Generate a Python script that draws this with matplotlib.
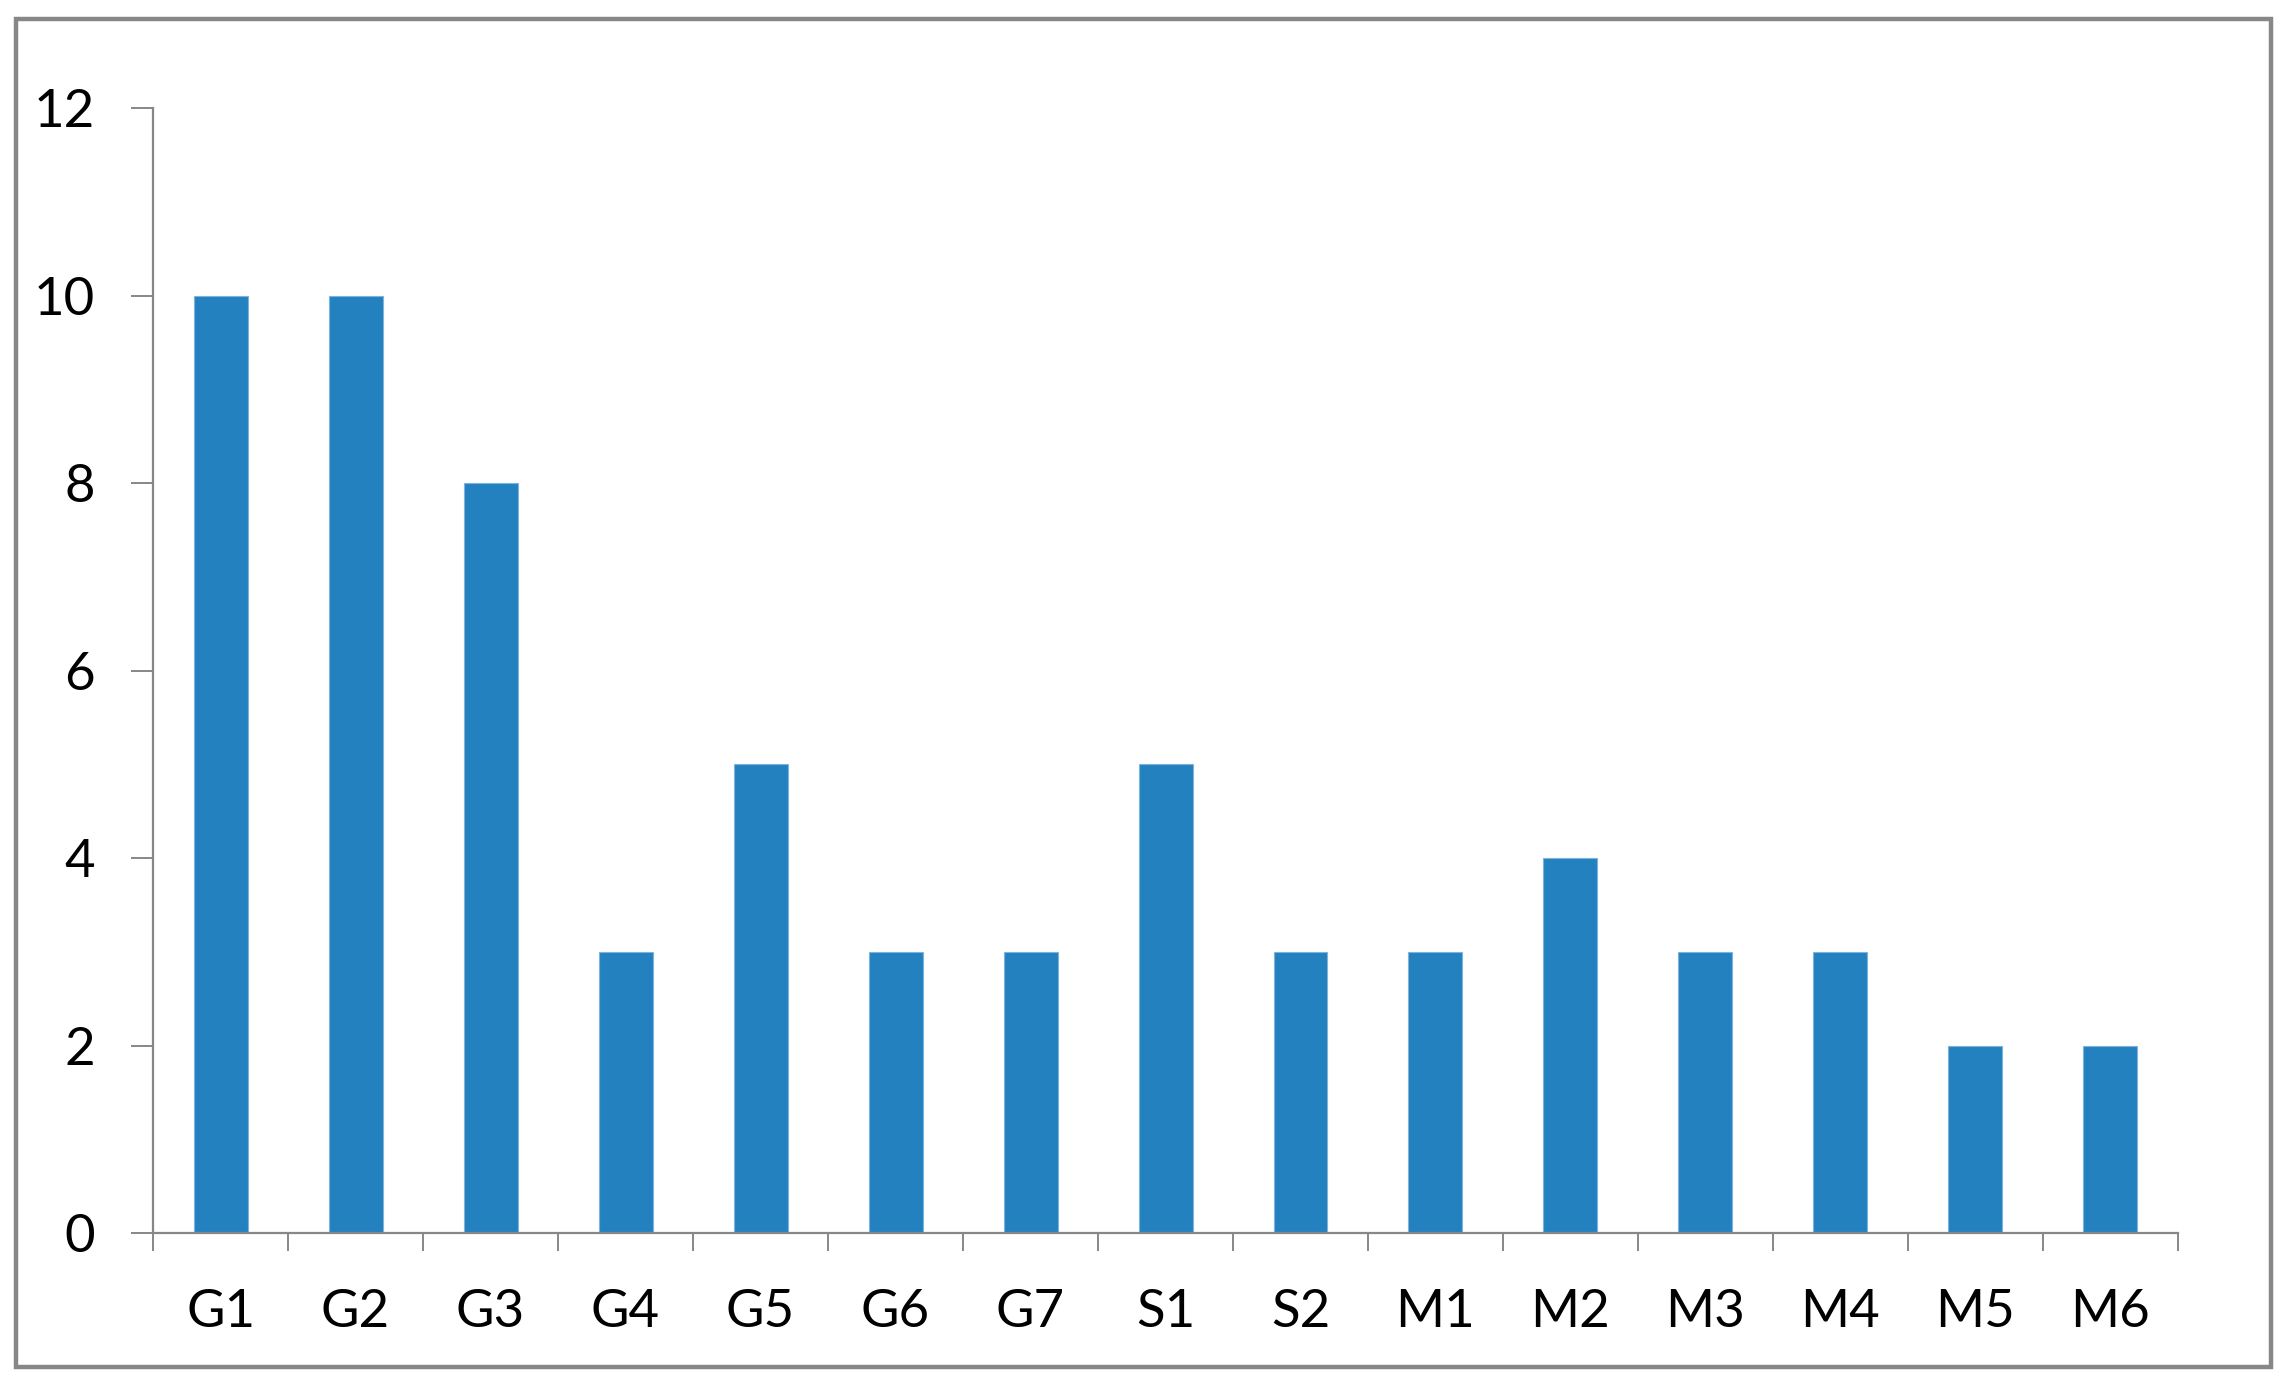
import matplotlib.pyplot as plt
from matplotlib.patches import Rectangle

categories = ['G1', 'G2', 'G3', 'G4', 'G5', 'G6', 'G7', 'S1', 'S2',
              'M1', 'M2', 'M3', 'M4', 'M5', 'M6']
values = [10, 10, 8, 3, 5, 3, 3, 5, 3, 3, 4, 3, 3, 2, 2]
y_ticks = [0, 2, 4, 6, 8, 10, 12]

plt.rcParams['font.family'] = ['Lato', 'DejaVu Sans']
grey = '#878787'

fig = plt.figure(figsize=(22.88, 13.85), dpi=100)
ax = fig.add_axes([0.0669, 0.1097, 0.885, 0.8123])

x = range(len(categories))
ax.bar(x, values, width=0.4, color='#2481C0', edgecolor='#7FB3DE', linewidth=0.8)

ax.set_xlim(-0.5, len(categories) - 0.5)
ax.set_ylim(0, 12)
ax.set_yticks(y_ticks)
ax.set_yticklabels([str(v) for v in y_ticks])

# ticks sit on the category boundaries, labels at centres
ax.set_xticks([i - 0.5 for i in range(len(categories) + 1)])
ax.set_xticklabels([])
ax.set_xticks(list(x), minor=True)
ax.set_xticklabels(categories, minor=True)

ax.tick_params(axis='y', length=16, width=1.4, color=grey, pad=26, labelsize=38)
ax.tick_params(axis='x', which='major', length=13, width=1.4, color=grey)
ax.tick_params(axis='x', which='minor', length=0, pad=40, labelsize=38)

for side in ['top', 'right']:
    ax.spines[side].set_visible(False)
for side in ['left', 'bottom']:
    ax.spines[side].set_color(grey)
    ax.spines[side].set_linewidth(1.6)

# outer frame
W, H = 2288, 1385
frame = Rectangle((16 / W, (H - 1367) / H), (2271 - 16) / W, (1367 - 19) / H,
                  transform=fig.transFigure, fill=False, edgecolor=grey,
                  linewidth=3.2)
fig.patches.append(frame)

fig.savefig('out.png', dpi=100)
